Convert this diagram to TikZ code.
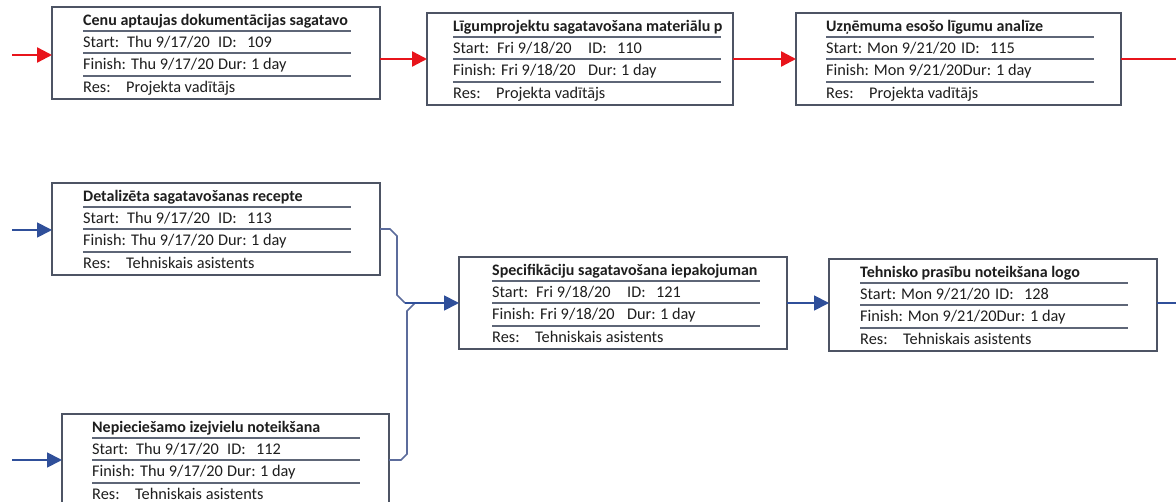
\documentclass[tikz,border=0pt]{standalone}
\usepackage{fontspec}
\setmainfont{Carlito}
\usetikzlibrary{arrows.meta}
\definecolor{boxc}{HTML}{4D5464}
\definecolor{sepc}{HTML}{5E6677}
\definecolor{txt}{HTML}{1E1E1E}
\definecolor{redc}{HTML}{E8141B}
\definecolor{bluec}{HTML}{2F4F9A}
\definecolor{connc}{HTML}{5C6C9C}

\newcommand\cell[2]{\makebox[#1pt][l]{#2}}

\tikzset{
 taskbox/.style={draw=boxc, line width=1.6pt, minimum height=92pt, inner sep=0pt, outer sep=0pt, anchor=north west, fill=white},
 sepline/.style={draw=sepc, line width=1.3pt},
 titletext/.style={anchor=base west, inner sep=0pt, font=\fontsize{16}{19}\selectfont\bfseries, text=txt},
 rowtext/.style={anchor=base west, inner sep=0pt, font=\fontsize{16.3}{19}\selectfont, text=txt},
 redarrow/.style={draw=redc, line width=2.4pt, -{Triangle[length=15pt,width=15pt]}},
 redline/.style={draw=redc, line width=2.4pt},
 bluearrow/.style={draw=bluec, line width=1.8pt, -{Triangle[length=15pt,width=15pt]}},
 blueline/.style={draw=bluec, line width=1.8pt},
 connline/.style={draw=connc, line width=1.6pt},
}

\newcommand\taskrows[7]{%
  \foreach \d in {24,46,69} {\draw[sepline] (#2,#3+\d) -- ++(268,0);}
  \begin{scope}
    \clip (#2-2,#3+2) rectangle (#2+270,#3+23);
    \node[titletext] (#1t) at (#2,#3+18.5) {#4};
  \end{scope}
  \node[rowtext] (#1s) at (#2,#3+40.5) {#5};
  \node[rowtext] (#1f) at (#2,#3+63) {#6};
  \node[rowtext] (#1r) at (#2,#3+86) {#7};
}

\begin{document}
\begin{tikzpicture}[x=1pt,y=-1pt]
\useasboundingbox (0,0) rectangle (1176,502);
\fill[white] (0,0) rectangle (1176,502);
\clip (0,0) rectangle (1176,502);

% boxes
\node[taskbox, minimum width=328pt] (b1) at (52,7) {};
\node[taskbox, minimum width=306pt] (b2) at (427,13) {};
\node[taskbox, minimum width=325pt] (b3) at (796,13) {};
\node[taskbox, minimum width=328pt] (b4) at (52,183) {};
\node[taskbox, minimum width=328pt] (b5) at (459,257) {};
\node[taskbox, minimum width=327pt] (b6) at (62,414) {};
\node[taskbox, minimum width=328pt] (b7) at (829,259) {};

\taskrows{b1}{83}{7}{Cenu aptaujas dokumentācijas sagatavo}
  {\cell{44}{Start:}\cell{91}{Thu 9/17/20}\cell{29}{ID:}109}
  {\cell{48}{Finish:}\cell{87}{Thu 9/17/20}\cell{33}{Dur:}1 day}
  {\cell{43}{Res:}Projekta vadītājs}
\taskrows{b2}{453}{13}{Līgumprojektu sagatavošana materiālu p}
  {\cell{44}{Start:}\cell{91}{Fri 9/18/20}\cell{29}{ID:}110}
  {\cell{48}{Finish:}\cell{87}{Fri 9/18/20}\cell{33}{Dur:}1 day}
  {\cell{43}{Res:}Projekta vadītājs}
\taskrows{b3}{826}{13}{Uzņēmuma esošo līgumu analīze}
  {\cell{41}{Start:}\cell{94}{Mon 9/21/20}\cell{29}{ID:}115}
  {Finish: Mon 9/21/20Dur: 1 day}
  {\cell{43}{Res:}Projekta vadītājs}
\taskrows{b4}{83}{183}{Detalizēta sagatavošanas recepte}
  {\cell{44}{Start:}\cell{91}{Thu 9/17/20}\cell{29}{ID:}113}
  {\cell{48}{Finish:}\cell{87}{Thu 9/17/20}\cell{33}{Dur:}1 day}
  {\cell{43}{Res:}Tehniskais asistents}
\taskrows{b5}{492}{257}{Specifikāciju sagatavošana iepakojuman}
  {\cell{44}{Start:}\cell{91}{Fri 9/18/20}\cell{29}{ID:}121}
  {\cell{48}{Finish:}\cell{87}{Fri 9/18/20}\cell{33}{Dur:}1 day}
  {\cell{43}{Res:}Tehniskais asistents}
\taskrows{b6}{92}{414}{Nepieciešamo izejvielu noteikšana}
  {\cell{44}{Start:}\cell{91}{Thu 9/17/20}\cell{29}{ID:}112}
  {\cell{48}{Finish:}\cell{87}{Thu 9/17/20}\cell{33}{Dur:}1 day}
  {\cell{43}{Res:}Tehniskais asistents}
\taskrows{b7}{860}{259}{Tehnisko prasību noteikšana logo}
  {\cell{41}{Start:}\cell{94}{Mon 9/21/20}\cell{29}{ID:}128}
  {Finish: Mon 9/21/20Dur: 1 day}
  {\cell{43}{Res:}Tehniskais asistents}

% red critical path
\coordinate (in1) at (12,55);
\draw[redarrow] (in1) -- (in1 -| b1.west);
\draw[redarrow] (b1.east |- b2.west) -- (b2.west);
\draw[redarrow] (b2.east |- b3.west) -- (b3.west);
\coordinate (out3) at (1176,59);
\draw[redline] (out3 -| b3.east) -- (out3);

% blue links
\coordinate (in4) at (12,230);
\draw[bluearrow] (in4) -- (in4 -| b4.west);
\coordinate (in6) at (12,460);
\draw[bluearrow] (in6) -- (in6 -| b6.west);
\draw[connline] (b4.east) -- ++(10,0) -- ++(7,7) -- ++(0,59) -- ++(8,8) coordinate (j);
\draw[connline] (b6.east) -- ++(12,0) -- ++(6,-6) -- ++(0,-143) -- ++(8,-8);
\draw[bluearrow] (j) -- (b5.west);
\draw[bluearrow] (b5.east) -- (b5.east -| b7.west);
\coordinate (out7) at (1176,303);
\draw[blueline] (out7 -| b7.east) -- (out7);
\end{tikzpicture}
\end{document}
